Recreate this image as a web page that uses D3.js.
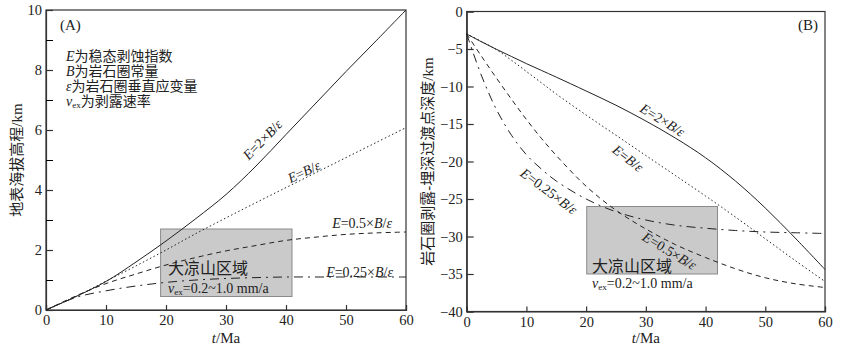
<!DOCTYPE html>
<html>
<head>
<meta charset="utf-8">
<script src="https://cdn.jsdelivr.net/npm/d3@7"></script>
<style>
  body { margin: 0; background: #fff; }
  svg text { font-family: "Liberation Serif", "Times New Roman", "Noto Sans CJK SC", serif; fill: #222; }
  .cjk { font-family: "Liberation Serif", "Noto Sans CJK SC", sans-serif; }
</style>
</head>
<body>
<svg id="chart" width="844" height="351"></svg>
<script>
// time axis (Ma)
const tA = [0, 5, 10, 15, 20, 25, 30, 35, 40, 45, 50, 55, 60];
const tB = [0, 2.5, 5, 7.5, 10, 12.5, 15, 20, 25, 30, 35, 40, 45, 50, 55, 60];

// (A) surface elevation, km
const elevE2   = [0, 0.45, 0.95, 1.6, 2.3, 3.05, 3.85, 4.8, 5.85, 6.9, 7.95, 8.97, 10];
const elevE1   = [0, 0.45, 0.96, 1.47, 2.0, 2.55, 3.07, 3.58, 4.08, 4.58, 5.08, 5.58, 6.08];
const elevE05  = [0, 0.47, 0.88, 1.2, 1.5, 1.75, 1.97, 2.15, 2.32, 2.43, 2.52, 2.57, 2.6];
const elevE025 = [0, 0.42, 0.64, 0.8, 0.92, 1.0, 1.05, 1.08, 1.1, 1.1, 1.1, 1.1, 1.1];

// (B) transition depth, km
const depthE2   = [-3, -4.05, -5.05, -6.0, -6.95, -7.85, -8.75, -10.6, -12.5, -14.6, -16.9, -19.5, -22.6, -26.2, -30.2, -34.4];
const depthE1   = [-3, -4.0, -5.1, -6.5, -8.0, -9.5, -11.0, -13.8, -16.5, -19.2, -21.9, -24.6, -27.4, -30.3, -33.2, -36.0];
const depthE05  = [-3, -6.0, -8.9, -11.7, -14.4, -16.9, -19.2, -23.3, -26.5, -29.0, -31.1, -32.8, -34.3, -35.5, -36.3, -36.8];
const depthE025 = [-3, -8.6, -13.1, -16.5, -19.1, -21.0, -22.6, -25.0, -26.7, -27.8, -28.5, -28.9, -29.2, -29.4, -29.5, -29.6];

// Daliangshan region boxes [t0, t1], [v0, v1]
const boxAT = [19.1, 41], boxAV = [0.45, 2.7];
const boxBT = [20.1, 42], boxBV = [-35, -26];

const xTicks = [0, 10, 20, 30, 40, 50, 60];
const yTicksA = [0, 2, 4, 6, 8, 10];
const yMinorA = [1, 3, 5, 7, 9];
const yTicksB = [0, -5, -10, -15, -20, -25, -30, -35, -40];

const svg = d3.select("#chart");
const line = (x, y, t) => d3.line().x((d, i) => x(t[i])).y(d => y(d)).curve(d3.curveCatmullRom.alpha(0.5));

const dashes = { solid: null, dotted: "1.5,2.5", dashed: "5,4", dashdot: "9,5,2,5" };

function label(g, x, y, rot, parts, size, anchor) {
  const t = g.append("text")
    .attr("transform", `translate(${x},${y}) rotate(${rot})`)
    .attr("text-anchor", anchor || "middle")
    .attr("font-size", size || 14);
  parts.forEach(p => {
    const s = t.append("tspan").text(p[0]);
    if (p[1] === "i") s.attr("font-style", "italic");
    if (p[1] === "sub") s.attr("font-size", (size || 14) * 0.65).attr("dy", 2);
    if (p[1] === "up") s.attr("dy", -2);
  });
  return t;
}

function panel(opts) {
  const { x, y } = opts;
  const g = svg.append("g");

  // box
  g.append("rect")
    .attr("x", x(opts.boxT[0])).attr("y", y(opts.boxV[1]))
    .attr("width", x(opts.boxT[1]) - x(opts.boxT[0]))
    .attr("height", y(opts.boxV[0]) - y(opts.boxV[1]))
    .attr("fill", "#cacaca").attr("stroke", "#8a8a8a").attr("stroke-width", 1);

  // frame
  g.append("rect")
    .attr("x", x.range()[0]).attr("y", y.range()[1])
    .attr("width", x.range()[1] - x.range()[0])
    .attr("height", y.range()[0] - y.range()[1])
    .attr("fill", "none").attr("stroke", "#333").attr("stroke-width", 1.2);

  const xa = g.append("g").attr("transform", `translate(0,${y.range()[0]})`)
    .call(d3.axisBottom(x).tickValues(xTicks).tickSize(-5).tickPadding(5));
  const ya = g.append("g").attr("transform", `translate(${x.range()[0]},0)`)
    .call(d3.axisLeft(y).tickValues(opts.yTicks).tickSize(-7).tickPadding(4));
  if (opts.yMinor) {
    g.append("g").attr("transform", `translate(${x.range()[0]},0)`)
      .call(d3.axisLeft(y).tickValues(opts.yMinor).tickSize(-7).tickFormat(""))
      .select(".domain").remove();
  }
  [xa, ya].forEach(a => {
    a.selectAll("text").attr("font-size", 14.5).attr("fill", "#222")
      .attr("font-family", '"Liberation Serif", serif');
    a.selectAll("line,path").attr("stroke", "#333").attr("stroke-width", 1.2);
  });

  opts.series.forEach(s => {
    g.append("path")
      .datum(s.values)
      .attr("fill", "none")
      .attr("stroke", "#222")
      .attr("stroke-width", 1)
      .attr("stroke-dasharray", dashes[s.style])
      .attr("d", line(x, y, opts.t));
  });

  // axis titles
  const cx = (x.range()[0] + x.range()[1]) / 2;
  label(g, cx, 343, 0, [["t", "i"], ["/Ma"]], 15);
  g.append("text").attr("class", "cjk")
    .attr("transform", `translate(${opts.yLabelX},${(y.range()[0] + y.range()[1]) / 2}) rotate(-90)`)
    .attr("text-anchor", "middle").attr("font-size", 15).text(opts.yLabel);
  return g;
}

// ---------- panel A ----------
const xA = d3.scaleLinear().domain([0, 60]).range([46, 406]);
const yA = d3.scaleLinear().domain([0, 10]).range([310, 10]);
const gA = panel({
  x: xA, y: yA, t: tA, yTicks: yTicksA, yMinor: yMinorA,
  boxT: boxAT, boxV: boxAV,
  yLabel: "地表海拔高程/km", yLabelX: 22,
  series: [
    { values: elevE2, style: "solid" },
    { values: elevE1, style: "dotted" },
    { values: elevE05, style: "dashed" },
    { values: elevE025, style: "dashdot" }
  ]
});
label(gA, 60, 30, 0, [["(A)"]], 15, "start");
[
  [["E", "i"], ["为稳态剥蚀指数"]],
  [["B", "i"], ["为岩石圈常量"]],
  [["ε", "i"], ["为岩石圈垂直应变量"]],
  [["v", "i"], ["ex", "sub"], ["为剥露速率", "up"]]
].forEach((p, i) => label(gA, 66, 61 + i * 15, 0, p, 14, "start"));
label(gA, 266, 143, -46, [["E", "i"], ["=2×"], ["B", "i"], ["/"], ["ε", "i"]], 14);
label(gA, 306, 176, -25, [["E", "i"], ["="], ["B", "i"], ["/"], ["ε", "i"]], 14);
label(gA, 392, 228, 0, [["E", "i"], ["=0.5×"], ["B", "i"], ["/"], ["ε", "i"]], 14, "end");
label(gA, 393, 277, 0, [["E", "i"], ["=0.25×"], ["B", "i"], ["/"], ["ε", "i"]], 14, "end");
label(gA, 168, 274, 0, [["大凉山区域"]], 16, "start");
label(gA, 168, 293, 0, [["v", "i"], ["ex", "sub"], ["=0.2~1.0 mm/a", "up"]], 14, "start");

// ---------- panel B ----------
const xB = d3.scaleLinear().domain([0, 60]).range([466.7, 825]);
const yB = d3.scaleLinear().domain([-40, 0]).range([311.5, 11.5]);
const gB = panel({
  x: xB, y: yB, t: tB, yTicks: yTicksB,
  boxT: boxBT, boxV: boxBV,
  yLabel: "岩石圈剥露-埋深过渡点深度/km", yLabelX: 433,
  series: [
    { values: depthE2, style: "solid" },
    { values: depthE1, style: "dotted" },
    { values: depthE05, style: "dashed" },
    { values: depthE025, style: "dashdot" }
  ]
});
label(gB, 818, 30, 0, [["(B)"]], 15, "end");
label(gB, 660, 124, 32, [["E", "i"], ["=2×"], ["B", "i"], ["/"], ["ε", "i"]], 14);
label(gB, 625, 162, 38, [["E", "i"], ["="], ["B", "i"], ["/"], ["ε", "i"]], 14);
label(gB, 546, 195, 37, [["E", "i"], ["=0.25×"], ["B", "i"], ["/"], ["ε", "i"]], 14);
label(gB, 667, 255, 31, [["E", "i"], ["=0.5×"], ["B", "i"], ["/"], ["ε", "i"]], 14);
label(gB, 592, 272, 0, [["大凉山区域"]], 16, "start");
label(gB, 592, 288, 0, [["v", "i"], ["ex", "sub"], ["=0.2~1.0 mm/a", "up"]], 14, "start");
</script>
</body>
</html>
